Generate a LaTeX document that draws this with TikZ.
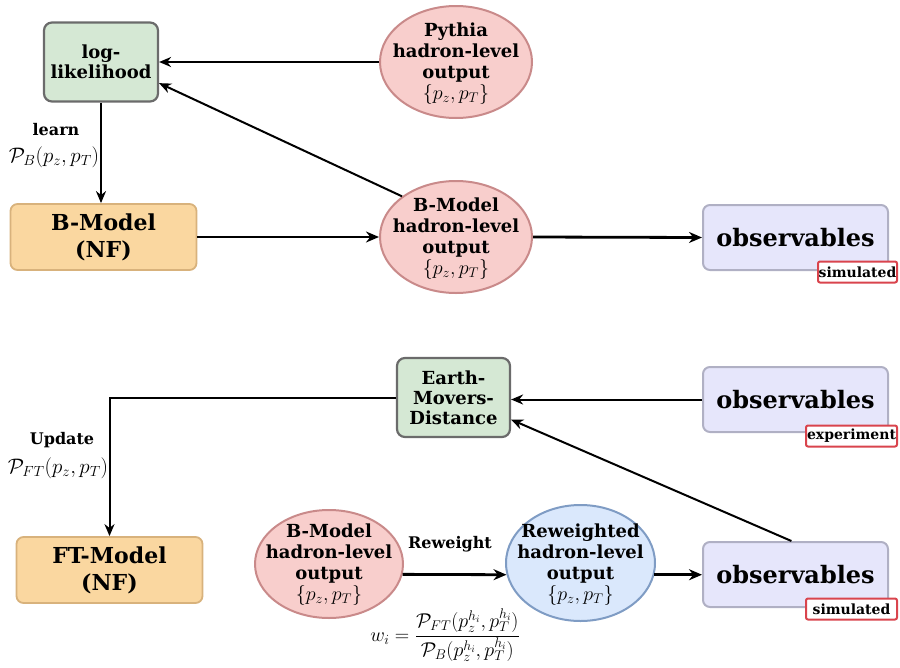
\RequirePackage{fix-cm}
\documentclass[tikz,border=0pt]{standalone}
\usepackage{fontspec}
\setmainfont{DejaVu Serif}
\usetikzlibrary{shapes.geometric,arrows.meta,calc}
\definecolor{gfill}{HTML}{D5E8D4}
\definecolor{gdraw}{HTML}{6B6B6B}
\definecolor{ofill}{HTML}{FAD7A0}
\definecolor{odraw}{HTML}{D8B27C}
\definecolor{rfill}{HTML}{F8CECC}
\definecolor{rdraw}{HTML}{C98A8A}
\definecolor{bfill}{HTML}{DAE8FC}
\definecolor{bdraw}{HTML}{7F9CC4}
\definecolor{lfill}{HTML}{E6E6FB}
\definecolor{ldraw}{HTML}{B0B0C4}
\definecolor{tagred}{HTML}{D9444D}
\tikzset{
  greenbox/.style={draw=gdraw,fill=gfill,line width=2.2pt,rounded corners=8pt,align=center,inner sep=0pt,
    font=\bfseries\fontsize{18}{20}\selectfont},
  orangebox/.style={draw=odraw,fill=ofill,line width=1.8pt,rounded corners=7pt,align=center,inner sep=0pt,
    minimum width=186pt,minimum height=66pt,font=\bfseries\fontsize{22}{27}\selectfont},
  obsbox/.style={draw=ldraw,fill=lfill,line width=2pt,rounded corners=7pt,align=center,inner sep=0pt,
    minimum width=185pt,minimum height=65pt,font=\bfseries\fontsize{24}{28}\selectfont},
  redell/.style={ellipse,draw=rdraw,fill=rfill,line width=2pt,inner sep=0pt},
  blueell/.style={ellipse,draw=bdraw,fill=bfill,line width=2pt,inner sep=0pt},
  elltext/.style={align=center,inner sep=0pt,font=\bfseries\fontsize{18}{21}\selectfont},
  tagbox/.style={draw=tagred,fill=white,line width=2pt,rounded corners=2pt,inner sep=0pt,
    font=\bfseries\fontsize{14}{15}\selectfont,minimum height=21pt},
  arr/.style={-{Stealth[length=12pt,width=10pt]},line width=2pt},
  tarr/.style={-{Stealth[length=13pt,width=11pt]},line width=2.8pt},
  lab/.style={font=\bfseries\fontsize{16}{19}\selectfont,inner sep=0pt},
  mlab/.style={font=\fontsize{21}{24}\selectfont,inner sep=0pt}
}
\newcommand{\pzpt}{{\fontsize{20}{22}\selectfont$\{p_z,p_T\}$}}
\begin{document}
\begin{tikzpicture}[x=1pt,y=-1pt]
\useasboundingbox (0,0) rectangle (900,667);
% top row
\node[greenbox,minimum width=114pt,minimum height=79pt] (ll) at (101,62) {log-\\likelihood};
\node[redell,minimum width=152pt,minimum height=112pt] (py) at (456,62) {};
\node[elltext] (pyt) at (456,64) {Pythia\\hadron-level\\output\\\pzpt};
\node[orangebox] (nf) at (103.5,237) {B-Model\\(NF)};
\node[redell,minimum width=152pt,minimum height=112pt] (bmt) at (456,237) {};
\node[elltext] (bmtt) at (456,239) {B-Model\\hadron-level\\output\\\pzpt};
\node[obsbox] (obs1) at (795.5,237.5) {observables};
\node[tagbox,minimum width=79pt] (tag1) at (857.5,272) {simulated};
% bottom part
\node[greenbox,minimum width=113pt,minimum height=79pt] (emd) at (453.5,397.5) {Earth-\\Movers-\\Distance};
\node[obsbox] (obs2) at (795.5,399.5) {observables};
\node[tagbox,minimum width=91pt] (tag2) at (851.5,436) {experiment};
\node[orangebox] (ft) at (109.5,570) {FT-Model\\(NF)};
\node[redell,minimum width=148pt,minimum height=108pt] (bmb) at (329,564) {};
\node[elltext] (bmbt) at (329,565) {B-Model\\hadron-level\\output\\\pzpt};
\node[blueell,minimum width=149pt,minimum height=116pt] (rw) at (580.5,563) {};
\node[elltext] (rwt) at (580.5,565) {Reweighted\\hadron-level\\output\\\pzpt};
\node[obsbox] (obs3) at (795.5,574.5) {observables};
\node[tagbox,minimum width=91pt] (tag3) at (851.5,609) {simulated};
% edges top
\draw[arr] (py.west) -- (ll.east |- py.west);
\draw[arr] (bmt.143) -- (ll.-20);
\draw[arr] (ll.south) -- (ll.south |- nf.north);
\node[lab] (learn) at (56,130) {learn};
\node[mlab] (pb) at (54,157) {$\mathcal{P}_B(p_z,p_T)$};
\draw[tarr] (nf.east) -- (bmt.west);
\draw[tarr] (bmt.east) -- (obs1.west);
% edges bottom
\draw[arr] (obs2.west) -- (emd.east |- obs2.west);
\draw[arr] (obs3.97) -- (emd.-21);
\draw[arr] (emd.west) -| (ft.north);
\node[lab] (upd) at (62,440) {Update};
\node[mlab] (pft) at (58,468) {$\mathcal{P}_{FT}(p_z,p_T)$};
\draw[tarr] (bmb.-8.6) -- (rw.189.3);
\node[lab] (rwl) at (450,544) {Reweight};
\draw[tarr] (rw.-9.3) -- (obs3.west |- rw.-9.3);
\node[mlab,font=\fontsize{20}{23}\selectfont] (wi) at (445,635) {$w_i=\displaystyle\frac{\mathcal{P}_{FT}(p_z^{h_i},p_T^{h_i})}{\mathcal{P}_B(p_z^{h_i},p_T^{h_i})}$};
\end{tikzpicture}
\end{document}
